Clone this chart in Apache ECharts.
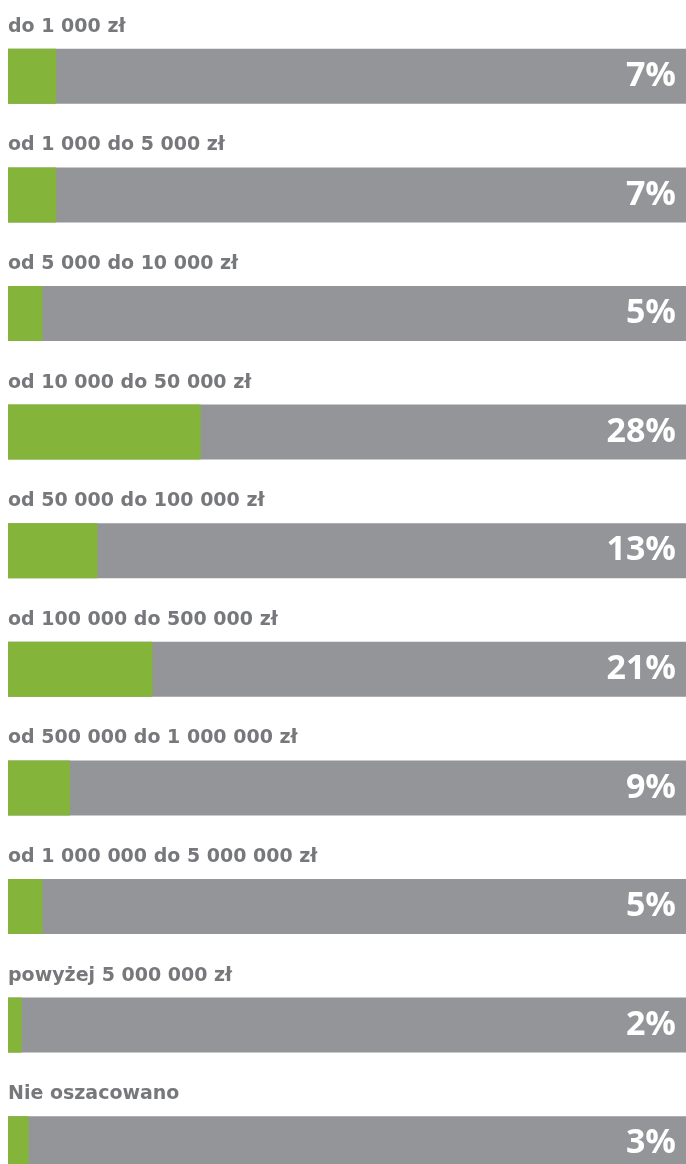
<!DOCTYPE html>
<html>
<head>
<meta charset="utf-8">
<script src="https://cdn.jsdelivr.net/npm/echarts@6/dist/echarts.min.js"></script>
<style>
  html, body { margin: 0; padding: 0; background: #fff; }
  #chart { width: 686px; height: 1164px; }
</style>
</head>
<body>
<div id="chart"></div>
<script>
// przedziały wartości
const categories = [
  "do 1 000 zł",
  "od 1 000 do 5 000 zł",
  "od 5 000 do 10 000 zł",
  "od 10 000 do 50 000 zł",
  "od 50 000 do 100 000 zł",
  "od 100 000 do 500 000 zł",
  "od 500 000 do 1 000 000 zł",
  "od 1 000 000 do 5 000 000 zł",
  "powyżej 5 000 000 zł",
  "Nie oszacowano"
];
const shares = [7, 7, 5, 28, 13, 21, 9, 5, 2, 3];

const GREEN = "#84b53a";
const GRAY = "#939598";
const LABEL_GRAY = "#77787b";

const chart = echarts.init(document.getElementById("chart"));

const option = {
  animation: false,
  grid: { left: 8, right: -10, top: 17, height: 1186, outerBoundsMode: "none", containLabel: false },
  xAxis: { type: "value", min: 0, max: 100, show: false },
  yAxis: [
    {
      type: "category",
      data: categories,
      inverse: true,
      axisLine: { show: false },
      axisTick: { show: false },
      axisLabel: { show: false },
      splitLine: { show: false }
    },
    {
      type: "category",
      data: categories,
      inverse: true,
      position: "right",
      z: 10,
      axisLine: { show: false },
      axisTick: { show: false },
      splitLine: { show: false },
      axisLabel: {
        inside: true,
        margin: 20,
        color: "#fff",
        fontFamily: "Open Sans",
        fontWeight: "bold",
        fontSize: 34,
        formatter: (val, idx) => shares[idx] + "%"
      }
    }
  ],
  series: [
    {
      type: "bar",
      data: shares,
      barWidth: 55,
      showBackground: true,
      backgroundStyle: { color: GRAY },
      itemStyle: { color: GREEN },
      label: {
        show: true,
        position: [0, -22],
        verticalAlign: "middle",
        formatter: "{b}",
        color: LABEL_GRAY,
        fontFamily: "DejaVu Sans",
        fontWeight: "bold",
        fontSize: 19
      }
    }
  ]
};

chart.setOption(option);
</script>
</body>
</html>
